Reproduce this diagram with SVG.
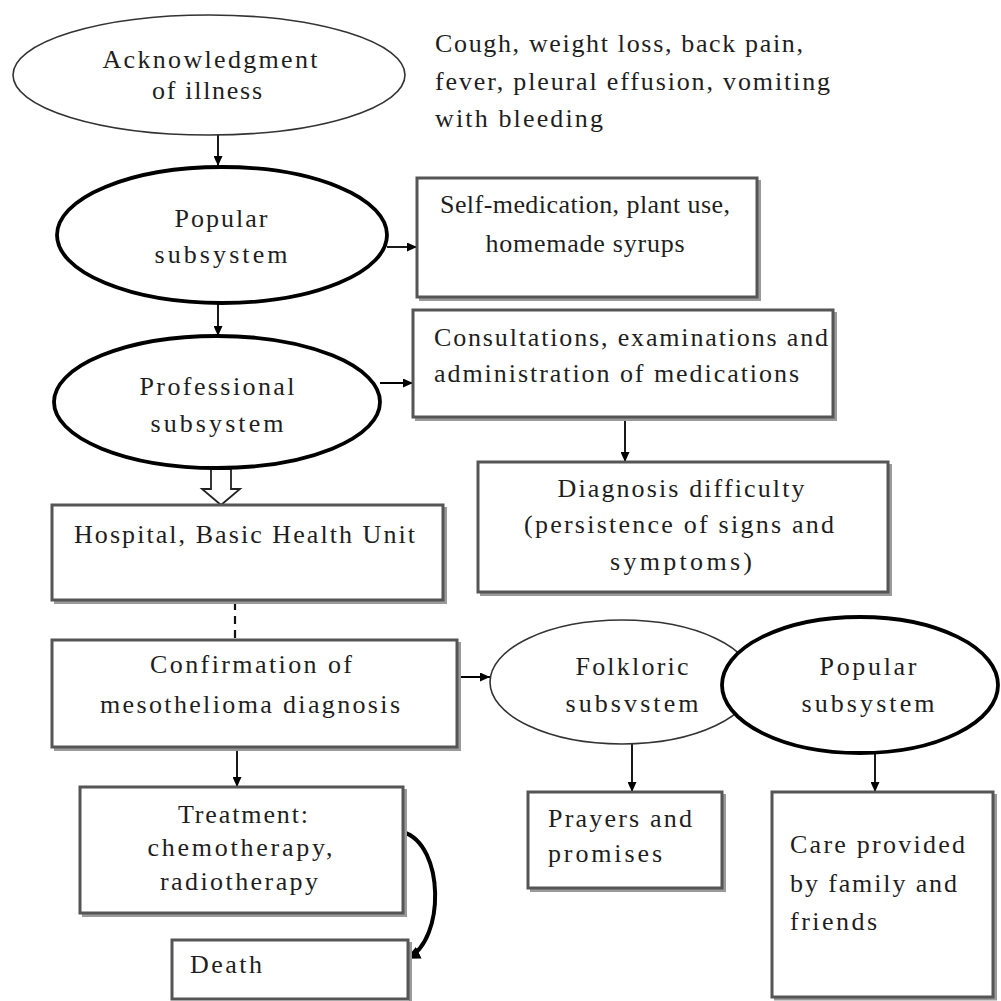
<svg xmlns="http://www.w3.org/2000/svg" width="1001" height="1001" viewBox="0 0 1001 1001">
<defs>
<style>
.t{font-family:"Liberation Serif","DejaVu Serif",serif;font-size:26px;fill:#1e1e1e}
.m{text-anchor:middle}
.box{fill:#fff;stroke:#555;stroke-width:3}
.sh{fill:none;stroke:#9a9a9a;stroke-width:3}
.thin{fill:#fff;stroke:#333;stroke-width:1.6}
.thick{fill:#fff;stroke:#000;stroke-width:3.8}
.ln{fill:none;stroke:#000;stroke-width:1.8}
</style>
<marker id="ah" markerUnits="userSpaceOnUse" markerWidth="10" markerHeight="9" refX="10" refY="4.5" orient="auto">
<path d="M0,0 L10,4.5 L0,9 z" fill="#000"/>
</marker>
<marker id="ahb" markerUnits="userSpaceOnUse" markerWidth="14" markerHeight="13" refX="12" refY="6.5" orient="auto">
<path d="M0,0 L14,6.5 L0,13 z" fill="#000"/>
</marker>
</defs>
<rect width="1001" height="1001" fill="#fff"/>

<g id="connectors">
<line class="ln" x1="218" y1="135" x2="218" y2="166" marker-end="url(#ah)"/>
<line class="ln" x1="387" y1="247" x2="417" y2="247" marker-end="url(#ah)"/>
<line class="ln" x1="218" y1="303" x2="218" y2="336" marker-end="url(#ah)"/>
<line class="ln" x1="380" y1="383" x2="413" y2="383" marker-end="url(#ah)"/>
<line class="ln" x1="625" y1="419" x2="625" y2="462" marker-end="url(#ah)"/>
<path d="M211,469 H231 V489 H240 L221,505 L202,489 H211 Z" fill="#fff" stroke="#222" stroke-width="1.8"/>
<line x1="235" y1="602" x2="235" y2="640" stroke="#111" stroke-width="2.2" stroke-dasharray="8,6"/>
<line class="ln" x1="457" y1="677" x2="490" y2="677" marker-end="url(#ah)"/>
<line class="ln" x1="632" y1="744" x2="632" y2="792" marker-end="url(#ah)"/>
<line class="ln" x1="875" y1="753" x2="875" y2="792" marker-end="url(#ah)"/>
<line class="ln" x1="237" y1="749" x2="237" y2="787" marker-end="url(#ah)"/>
<path d="M403,832 C445,845 445,940 408,958" fill="none" stroke="#000" stroke-width="4" marker-end="url(#ahb)"/>
</g>

<g id="n-ack">
<ellipse class="thin" cx="209" cy="75" rx="196" ry="60"/>
<text class="t m" x="210" y="68" textLength="215">Acknowledgment</text>
<text class="t m" x="207" y="99" textLength="110">of illness</text>
</g>

<g id="n-symptoms">
<text class="t" x="435" y="52" textLength="368">Cough, weight loss, back pain,</text>
<text class="t" x="435" y="90" textLength="395">fever, pleural effusion, vomiting</text>
<text class="t" x="435" y="127" textLength="168">with bleeding</text>
</g>

<g id="n-popular1">
<ellipse class="thick" cx="222" cy="235" rx="165" ry="68"/>
<text class="t m" x="221" y="227" textLength="93">Popular</text>
<text class="t m" x="221" y="263" textLength="133">subsystem</text>
</g>

<g id="n-selfmed">
<path class="sh" d="M419,299.5 H759.5 V180"/>
<rect class="box" x="417" y="178" width="340" height="119"/>
<text class="t m" x="585" y="213" textLength="290">Self-medication, plant use,</text>
<text class="t m" x="585" y="252" textLength="199">homemade syrups</text>
</g>

<g id="n-professional">
<ellipse class="thick" cx="217" cy="402" rx="163" ry="66"/>
<text class="t m" x="217" y="395" textLength="155">Professional</text>
<text class="t m" x="217" y="432" textLength="133">subsystem</text>
</g>

<g id="n-consult">
<path class="sh" d="M415,419.5 H835.5 V312"/>
<rect class="box" x="413" y="310" width="420" height="107"/>
<text class="t" x="434" y="346" textLength="394">Consultations, examinations and</text>
<text class="t" x="434" y="382" textLength="365">administration of medications</text>
</g>

<g id="n-diagnosis">
<path class="sh" d="M480,594.5 H890.5 V464"/>
<rect class="box" x="478" y="462" width="410" height="130"/>
<text class="t m" x="681" y="497" textLength="247">Diagnosis difficulty</text>
<text class="t m" x="679" y="533" textLength="310">(persistence of signs and</text>
<text class="t m" x="681" y="570" textLength="142">symptoms)</text>
</g>

<g id="n-hospital">
<path class="sh" d="M54,602.5 H445.5 V507"/>
<rect class="box" x="52" y="505" width="391" height="95"/>
<text class="t" x="74" y="543" textLength="341">Hospital, Basic Health Unit</text>
</g>

<g id="n-confirmation">
<path class="sh" d="M54,749.5 H459.5 V642"/>
<rect class="box" x="52" y="640" width="405" height="107"/>
<text class="t m" x="251" y="673" textLength="202">Confirmation of</text>
<text class="t m" x="250" y="713" textLength="300">mesothelioma diagnosis</text>
</g>

<g id="n-folkloric">
<ellipse class="thin" cx="622" cy="682" rx="132" ry="62"/>
<text class="t m" x="632" y="675" textLength="113">Folkloric</text>
<text class="t m" x="632" y="712" textLength="133">subsvstem</text>
</g>

<g id="n-popular2">
<ellipse class="thick" cx="860" cy="685" rx="138" ry="68"/>
<text class="t m" x="868" y="675" textLength="97">Popular</text>
<text class="t m" x="868" y="712" textLength="133">subsystem</text>
</g>

<g id="n-prayers">
<path class="sh" d="M530,890.5 H724.5 V794"/>
<rect class="box" x="528" y="792" width="194" height="96"/>
<text class="t" x="548" y="827" textLength="144">Prayers and</text>
<text class="t" x="548" y="862" textLength="114">promises</text>
</g>

<g id="n-care">
<path class="sh" d="M774,999 H995.5 V794"/>
<rect class="box" x="772" y="792" width="221" height="205"/>
<text class="t" x="790" y="853" textLength="175">Care provided</text>
<text class="t" x="790" y="892" textLength="167">by family and</text>
<text class="t" x="790" y="930" textLength="87">friends</text>
</g>

<g id="n-treatment">
<path class="sh" d="M82,915.5 H405.5 V789"/>
<rect class="box" x="80" y="787" width="323" height="126"/>
<text class="t m" x="243" y="823" textLength="130">Treatment:</text>
<text class="t m" x="240" y="856" textLength="185">chemotherapy,</text>
<text class="t m" x="239" y="890" textLength="158">radiotherapy</text>
</g>

<g id="n-death">
<path class="sh" d="M410.5,942 V1001"/>
<rect class="box" x="172" y="940" width="236" height="59"/>
<text class="t" x="190" y="973" textLength="72">Death</text>
</g>
</svg>
